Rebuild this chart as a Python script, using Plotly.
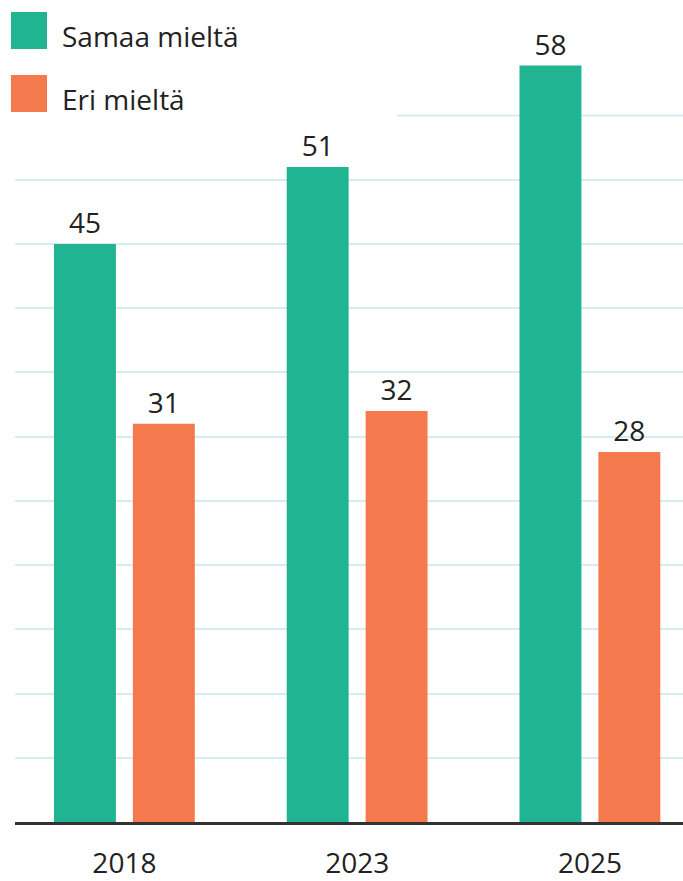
import plotly.graph_objects as go

years = ["2018", "2023", "2025"]
series_names = ["Samaa mieltä", "Eri mieltä"]
samaa = [45, 51, 58.9]
eri = [31, 32, 28.8]
samaa_labels = ["45", "51", "58"]
eri_labels = ["31", "32", "28"]
grid_values = [5, 10, 15, 20, 25, 30, 35, 40, 45, 50]
top_grid = 55

GREEN = "#20B492"
ORANGE = "#F47A4E"
TEXT = "#222222"
GRID = "#D5EDEF"
FONT = "Open Sans"
FS = 28

fig = go.Figure()
for name, vals, labels, col in [(series_names[0], samaa, samaa_labels, GREEN),
                                (series_names[1], eri, eri_labels, ORANGE)]:
    fig.add_trace(go.Bar(
        x=years, y=vals, name=name, marker_color=col, marker_line_width=0,
        text=labels, textposition="outside", cliponaxis=False,
        textfont=dict(size=FS, color=TEXT, family=FONT),
        showlegend=False, hoverinfo="skip",
    ))

# custom legend
for i, (name, col) in enumerate(zip(series_names, [GREEN, ORANGE])):
    top = 1 - (12 + i * 63) / 822
    fig.add_shape(type="rect", xref="paper", yref="paper",
                  x0=-4 / 668, x1=32 / 668, y0=top - 37 / 822, y1=top,
                  fillcolor=col, line_width=0)
    fig.add_annotation(xref="paper", yref="paper", x=45 / 668, y=top - 24 / 822,
                       xanchor="left", yanchor="middle", showarrow=False,
                       text=name, font=dict(size=FS, color=TEXT, family=FONT))

# top gridline, partially hidden behind the legend area
fig.add_shape(type="line", xref="paper", yref="y", layer="below",
              x0=(397 - 15) / 668, x1=1, y0=top_grid, y1=top_grid,
              line=dict(color=GRID, width=2))

fig.update_layout(
    width=683, height=881,
    margin=dict(l=15, r=0, t=0, b=59),
    plot_bgcolor="white", paper_bgcolor="white",
    barmode="group", bargap=0.322, bargroupgap=0.215,
    font=dict(family=FONT, color=TEXT),
    xaxis=dict(type="category", range=[-0.47, 2.40], showline=True,
               linecolor="#333333", linewidth=3, showgrid=False,
               tickfont=dict(size=FS, color=TEXT, family=FONT),
               ticks="", ticklabelstandoff=14, automargin=False),
    yaxis=dict(range=[0, 64], tickvals=grid_values, showgrid=True, gridcolor=GRID,
               gridwidth=2, showticklabels=False, zeroline=False, ticks="",
               automargin=False),
)

fig.write_html("out.html", config={"displayModeBar": False},
               post_script="document.body.style.margin='0';")
